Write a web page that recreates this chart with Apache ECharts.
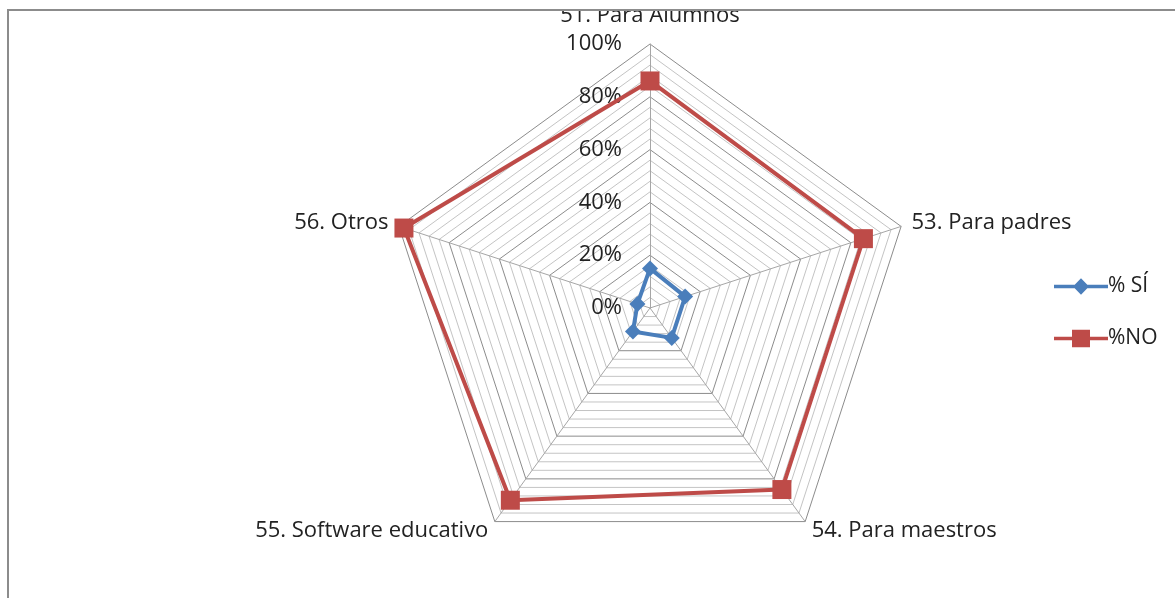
<!DOCTYPE html>
<html>
<head>
<meta charset="utf-8">
<script src="https://cdn.jsdelivr.net/npm/echarts@6/dist/echarts.min.js"></script>
<style>
html,body{margin:0;padding:0;background:#fff;}
#c{width:1175px;height:598px;}
</style>
</head>
<body>
<div id="c"></div>
<script>
var categories = ['51. Para Alumnos', '53. Para padres', '54. Para maestros', '55. Software educativo', '56. Otros'];
var seriesNames = ['% SÍ', '%NO'];
var valuesSi = [15, 14, 14, 11, 5];
var valuesNo = [86, 85, 85, 90, 98];
var tickLabels = ['0%', '20%', '40%', '60%', '80%', '100%'];

// ECharts lays radar indicators counter-clockwise; reorder to get clockwise layout
var order = [0, 4, 3, 2, 1];
function reorder(arr) { return order.map(function (i) { return arr[i]; }); }

var FONT = 'Open Sans';
var indicators = reorder(categories).map(function (name, k) {
  var ind = { name: name, min: 0, max: 100 };
  if (k === 0) ind.axisLabel = { show: true };
  return ind;
});

var ringColors = ['#8c8c8c', '#c4c4c4', '#c4c4c4', '#c4c4c4', '#c4c4c4'];

var iconDiamond = 'path://M0 7L54 7L54 10.5L0 10.5Z M27 0.5L35 8.75L27 17L19 8.75Z';
var iconSquare = 'path://M0 7L54 7L54 10.5L0 10.5Z M18 0L36 0L36 17.5L18 17.5Z';

var chart = echarts.init(document.getElementById('c'));
chart.setOption({
  animation: false,
  backgroundColor: '#fff',
  textStyle: { fontFamily: FONT },
  legend: {
    orient: 'vertical',
    left: 1049,
    top: 271,
    itemWidth: 54,
    itemHeight: 17.5,
    itemGap: 31,
    textStyle: { fontFamily: FONT, fontSize: 21, color: '#222', padding: [0, 0, 0, -5] },
    data: [
      { name: seriesNames[0], icon: iconDiamond },
      { name: seriesNames[1], icon: iconSquare }
    ]
  },
  radar: {
    center: [650, 308],
    radius: 264,
    shape: 'polygon',
    splitNumber: 25,
    indicator: indicators,
    axisName: {
      color: '#222',
      fontFamily: FONT,
      fontSize: 22,
      formatter: function (name) {
        return name === categories[0] ? '{top|' + name + '}' : name;
      },
      rich: {
        top: { fontFamily: FONT, fontSize: 22, color: '#222', padding: [0, 0, 6, 0] }
      }
    },
    nameGap: 11,
    axisLine: { lineStyle: { color: '#a6a6a6', width: 1 } },
    splitLine: { lineStyle: { color: ringColors, width: 1 } },
    splitArea: { show: false },
    axisTick: { show: false },
    axisLabel: {
      show: false,
      fontFamily: FONT,
      fontSize: 22,
      color: '#222',
      margin: 28,
      formatter: function (v) {
        var r = Math.round(v);
        return r % 20 === 0 ? tickLabels[r / 20] : '';
      }
    }
  },
  series: [{
    type: 'radar',
    data: [
      {
        name: seriesNames[0],
        value: reorder(valuesSi),
        symbol: 'diamond',
        symbolSize: 16,
        lineStyle: { color: '#4a7ebb', width: 4 },
        itemStyle: { color: '#4a7ebb' }
      },
      {
        name: seriesNames[1],
        value: reorder(valuesNo),
        symbol: 'rect',
        symbolSize: 19,
        lineStyle: { color: '#be4b48', width: 4 },
        itemStyle: { color: '#be4b48' }
      }
    ]
  }],
  graphic: [
    { type: 'rect', z: 100, shape: { x: 0, y: 0, width: 1175, height: 9 }, style: { fill: '#fff' } },
    { type: 'rect', z: 100, shape: { x: 0, y: 0, width: 7, height: 598 }, style: { fill: '#fff' } },
    { type: 'line', z: 101, shape: { x1: 8, y1: 10, x2: 1175, y2: 10 }, style: { stroke: '#8c8c8c', lineWidth: 2 } },
    { type: 'line', z: 101, shape: { x1: 8, y1: 9, x2: 8, y2: 598 }, style: { stroke: '#8c8c8c', lineWidth: 2 } }
  ]
});
</script>
</body>
</html>
